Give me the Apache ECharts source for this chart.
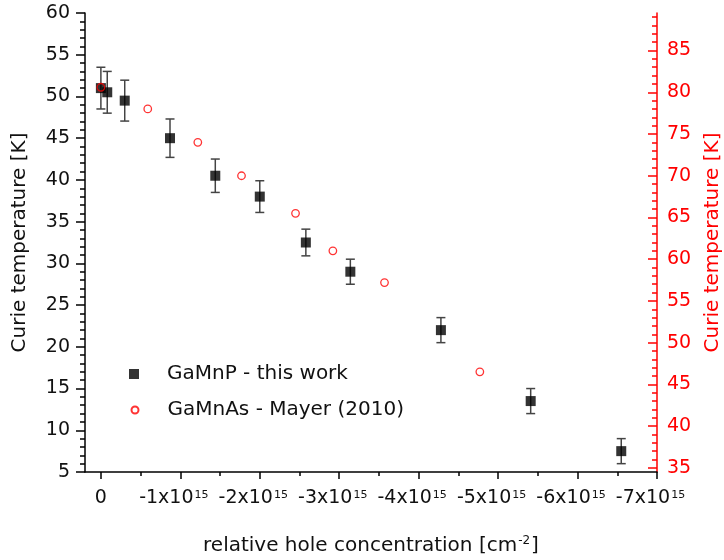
<!DOCTYPE html>
<html>
<head>
<meta charset="utf-8">
<script src="https://cdn.jsdelivr.net/npm/echarts@6.0.0/dist/echarts.min.js"></script>
<style>html,body{margin:0;padding:0;background:#fff;}#chart{width:724px;height:560px;}</style>
</head>
<body>
<div id="chart"></div>
<script>
// x in units of 1e15 cm^-2
const gamnpX   = [0, -0.08, -0.30, -0.87, -1.44, -2.00, -2.58, -3.14, -4.28, -5.41, -6.55];
const gamnpY   = [51.0, 50.5, 49.5, 45.0, 40.5, 38.0, 32.5, 29.0, 22.0, 13.5, 7.5];
const gamnpErr = [2.5, 2.5, 2.45, 2.3, 2.0, 1.9, 1.6, 1.5, 1.5, 1.5, 1.5];
const gamnasX  = [0, -0.59, -1.22, -1.77, -2.45, -2.92, -3.57, -4.77];
const gamnasY  = [80.6, 78.0, 74.0, 70.0, 65.5, 61.0, 57.2, 46.5];
const xMajorTicks = [-7, -6, -5, -4, -3, -2, -1, 0];
const xMinorTicks = [-6.5, -5.5, -4.5, -3.5, -2.5, -1.5, -0.5];
const rightMajorTicks = [35, 40, 45, 50, 55, 60, 65, 70, 75, 80, 85];
const rightMinorTicks = [];
for (let v = 35; v <= 89; v++) if (v % 5 !== 0) rightMinorTicks.push(v);

const FONT = 'DejaVu Sans';
const chart = echarts.init(document.getElementById('chart'), null, {renderer: 'canvas'});

const option = {
  animation: false,
  backgroundColor: '#fff',
  textStyle: {fontFamily: FONT},
  grid: {left: 85, right: 67, top: 13, bottom: 88, containLabel: false, outerBoundsMode: 'none'},
  legend: [
    {
      left: 124, top: 359, orient: 'vertical',
      itemWidth: 10, itemHeight: 10,
      data: [{name: 'GaMnP - this work', icon: 'rect'}],
      textStyle: {fontFamily: FONT, fontSize: 20, color: '#111', padding: [0, 0, 0, 23]}
    },
    {
      left: 125.5, top: 395, orient: 'vertical',
      itemWidth: 7, itemHeight: 7,
      data: [{name: 'GaMnAs - Mayer (2010)', icon: 'circle'}],
      textStyle: {fontFamily: FONT, fontSize: 20, color: '#111', padding: [0, 0, 0, 24]}
    }
  ],
  xAxis: [
    {
      type: 'value', min: -7, max: 0.2, inverse: true, position: 'bottom',
      axisLine: {show: true, onZero: false, lineStyle: {color: '#000', width: 1.5}},
      axisTick: {show: true, customValues: xMajorTicks, length: 7, lineStyle: {color: '#000', width: 1.5}},
      splitLine: {show: false},
      axisLabel: {
        customValues: xMajorTicks, margin: 17,
        formatter: function (v) {
          if (Math.abs(v) < 1e-9) return '{a|0}';
          return '{a|' + Math.round(v) + 'x10}{s|15}';
        },
        rich: {
          a: {fontFamily: FONT, fontSize: 19, color: '#111'},
          s: {fontFamily: FONT, fontSize: 11, color: '#111', padding: [0, 13, 6, 1]}
        }
      },
      name: '{a|relative hole concentration [cm}{s|-2}{a|]}',
      nameLocation: 'middle', nameGap: 63,
      nameTextStyle: {
        rich: {
          a: {fontFamily: FONT, fontSize: 20, color: '#111'},
          s: {fontFamily: FONT, fontSize: 12, color: '#111', padding: [0, 1, 9, 1]}
        }
      }
    },
    {
      type: 'value', min: -7, max: 0.2, inverse: true, position: 'bottom',
      axisLine: {show: false, onZero: false},
      axisTick: {show: true, customValues: xMinorTicks, length: 4, lineStyle: {color: '#000', width: 1.5}},
      axisLabel: {show: false},
      splitLine: {show: false}
    }
  ],
  yAxis: [
    {
      type: 'value', min: 5, max: 60, interval: 5, position: 'left',
      axisLine: {show: true, onZero: false, lineStyle: {color: '#000', width: 1.5}},
      axisTick: {show: true, length: 9, lineStyle: {color: '#000', width: 1.5}},
      minorTick: {show: true, splitNumber: 5, length: 5, lineStyle: {color: '#000', width: 1.5}},
      splitLine: {show: false},
      axisLabel: {margin: 15, fontFamily: FONT, fontSize: 19, color: '#111'},
      name: 'Curie temperature [K]', nameLocation: 'middle', nameGap: 55, nameRotate: 90,
      nameTextStyle: {fontFamily: FONT, fontSize: 20, color: '#111'}
    },
    {
      type: 'value', min: 34.5, max: 89.5, position: 'right',
      axisLine: {show: true, onZero: false, lineStyle: {color: '#ff0000', width: 1.5}},
      axisTick: {show: true, inside: true, customValues: rightMajorTicks, length: 9, lineStyle: {color: '#ff0000', width: 1.5}},
      splitLine: {show: false},
      axisLabel: {customValues: rightMajorTicks, margin: 10, fontFamily: FONT, fontSize: 19, color: '#ff0000'},
      name: 'Curie temperature [K]', nameLocation: 'middle', nameGap: 46, nameRotate: 90,
      nameTextStyle: {fontFamily: FONT, fontSize: 20, color: '#ff0000'}
    },
    {
      type: 'value', min: 34.5, max: 89.5, position: 'right',
      axisLine: {show: false, onZero: false},
      axisTick: {show: true, inside: true, customValues: rightMinorTicks, length: 5, lineStyle: {color: '#ff0000', width: 1.5}},
      splitLine: {show: false},
      axisLabel: {show: false}
    }
  ],
  series: [
    {
      name: 'errbars', type: 'custom', xAxisIndex: 0, yAxisIndex: 0, z: 2,
      data: gamnpX.map((x, i) => [x, gamnpY[i], gamnpErr[i]]),
      encode: {x: 0, y: 1},
      renderItem: function (params, api) {
        const x = api.value(0), y = api.value(1), e = api.value(2);
        const top = api.coord([x, y + e]);
        const bot = api.coord([x, y - e]);
        const hw = 4.5;
        const st = {stroke: '#444', lineWidth: 1.5};
        return {
          type: 'group',
          children: [
            {type: 'line', shape: {x1: top[0], y1: top[1], x2: bot[0], y2: bot[1]}, style: st},
            {type: 'line', shape: {x1: top[0] - hw, y1: top[1], x2: top[0] + hw, y2: top[1]}, style: st},
            {type: 'line', shape: {x1: bot[0] - hw, y1: bot[1], x2: bot[0] + hw, y2: bot[1]}, style: st}
          ]
        };
      }
    },
    {
      name: 'GaMnP - this work', type: 'scatter', xAxisIndex: 0, yAxisIndex: 0, z: 3,
      symbol: 'rect', symbolSize: 10,
      itemStyle: {color: '#000'},
      data: gamnpX.map((x, i) => [x, gamnpY[i]])
    },
    {
      name: 'GaMnAs - Mayer (2010)', type: 'scatter', xAxisIndex: 0, yAxisIndex: 1, z: 4,
      symbol: 'circle', symbolSize: 7.5,
      itemStyle: {color: 'rgba(255,255,255,0)', borderColor: '#ff0000', borderWidth: 1.3},
      data: gamnasX.map((x, i) => [x, gamnasY[i]])
    }
  ]
};
chart.setOption(option);
</script>
</body>
</html>
